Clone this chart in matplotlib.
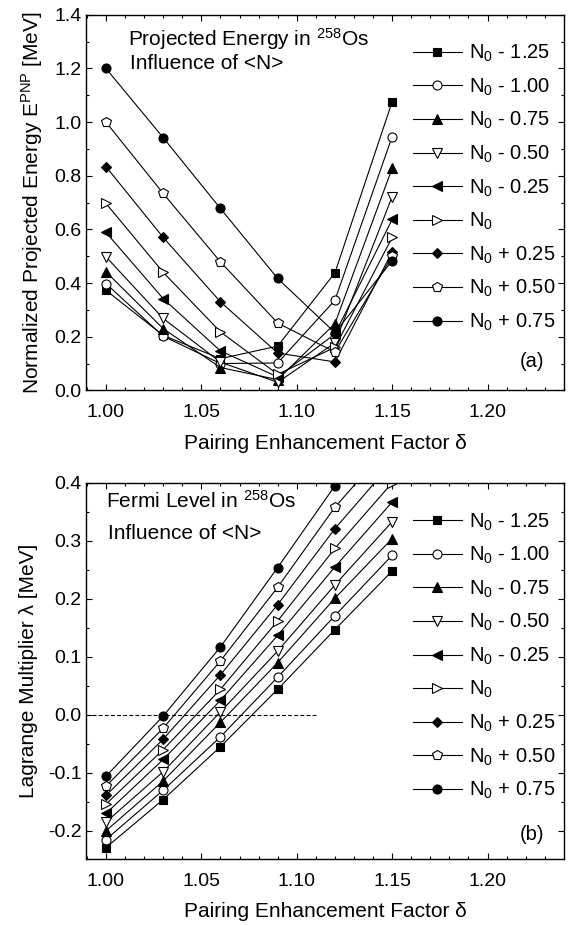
import matplotlib
matplotlib.use("Agg")
import matplotlib.pyplot as plt
from matplotlib.ticker import MultipleLocator, FormatStrFormatter

plt.rcParams['font.family'] = ['Liberation Sans', 'DejaVu Sans']
plt.rcParams['mathtext.fontset'] = 'custom'
plt.rcParams['mathtext.rm'] = 'Liberation Sans'
plt.rcParams['mathtext.it'] = 'Liberation Sans:italic'
plt.rcParams['axes.unicode_minus'] = False

# pairing enhancement factor
delta = [1.00, 1.03, 1.06, 1.09, 1.12, 1.15]

labels = ['N$_0$ - 1.25', 'N$_0$ - 1.00', 'N$_0$ - 0.75', 'N$_0$ - 0.50',
          'N$_0$ - 0.25', 'N$_0$', 'N$_0$ + 0.25', 'N$_0$ + 0.50', 'N$_0$ + 0.75']

# (a) normalized projected energy [MeV]
e_m125 = [0.373, 0.205, 0.118, 0.165, 0.438, 1.076]
e_m100 = [0.398, 0.202, 0.100, 0.102, 0.336, 0.946]
e_m075 = [0.442, 0.230, 0.085, 0.040, 0.249, 0.828]
e_m050 = [0.498, 0.268, 0.105, 0.030, 0.177, 0.722]
e_m025 = [0.589, 0.342, 0.147, 0.050, 0.210, 0.637]
e_0 = [0.697, 0.440, 0.218, 0.060, 0.160, 0.570]
e_p025 = [0.834, 0.570, 0.330, 0.139, 0.106, 0.516]
e_p050 = [1.000, 0.734, 0.479, 0.251, 0.143, 0.500]
e_p075 = [1.200, 0.942, 0.678, 0.417, 0.215, 0.483]

# (b) Lagrange multiplier (Fermi level) [MeV]
l_m125 = [-0.229, -0.146, -0.055, 0.044, 0.147, 0.248]
l_m100 = [-0.215, -0.130, -0.038, 0.065, 0.171, 0.275]
l_m075 = [-0.200, -0.114, -0.013, 0.090, 0.201, 0.304]
l_m050 = [-0.185, -0.098, 0.005, 0.110, 0.224, 0.333]
l_m025 = [-0.170, -0.077, 0.025, 0.137, 0.255, 0.367]
l_0 = [-0.154, -0.060, 0.044, 0.162, 0.287, 0.400]
l_p025 = [-0.139, -0.042, 0.069, 0.190, 0.321, 0.435]
l_p050 = [-0.123, -0.023, 0.093, 0.220, 0.358, 0.470]
l_p075 = [-0.106, -0.002, 0.117, 0.254, 0.395, 0.510]

energy = [e_m125, e_m100, e_m075, e_m050, e_m025, e_0, e_p025, e_p050, e_p075]
fermi = [l_m125, l_m100, l_m075, l_m050, l_m025, l_0, l_p025, l_p050, l_p075]

markers = ['s', 'o', '^', 'v', '<', '>', 'D', 'p', 'o']
filled = [True, False, True, False, True, False, True, False, True]
msizes = [5.5, 6.5, 7, 7, 7, 7, 5.5, 7, 6.5]

XMIN, XMAX = 0.9895, 1.24
FS = 14.5

fig = plt.figure(figsize=(5.69, 9.25), dpi=100)
ax1 = fig.add_axes([0.151, 0.578, 0.840, 0.406])
ax2 = fig.add_axes([0.151, 0.0714, 0.840, 0.4066])


def draw(ax, data):
    for y, lab, m, f, ms in zip(data, labels, markers, filled, msizes):
        ax.plot(delta, y, color='black', lw=0.8, marker=m, ms=ms,
                mfc='black' if f else 'white', mec='black', mew=0.8,
                label=lab)
    ax.set_xlim(XMIN, XMAX)
    ax.xaxis.set_major_locator(MultipleLocator(0.05))
    ax.xaxis.set_minor_locator(MultipleLocator(0.01))
    ax.xaxis.set_major_formatter(FormatStrFormatter('%.2f'))
    ax.tick_params(which='both', direction='in', top=True, right=True,
                   labelsize=14, width=0.8)
    ax.tick_params(which='major', length=4)
    ax.tick_params(which='minor', length=2.5)
    ax.tick_params(axis='x', which='major', pad=10)
    ax.tick_params(axis='y', which='major', pad=3)
    for s in ax.spines.values():
        s.set_linewidth(1.0)
    ax.set_xlabel('Pairing Enhancement Factor δ', fontsize=15, labelpad=9)
    # legend box centred on the rows, handles starting at x = 0.684
    ax.legend(loc='center left', bbox_to_anchor=(0.684, 0.539),
              frameon=False, fontsize=FS, handlelength=2.43,
              handletextpad=0.35, labelspacing=0.61, borderpad=0.0,
              borderaxespad=0.0)


draw(ax1, energy)
ax1.set_ylim(0.0, 1.4)
ax1.yaxis.set_major_locator(MultipleLocator(0.2))
ax1.yaxis.set_minor_locator(MultipleLocator(0.1))
ax1.yaxis.set_major_formatter(FormatStrFormatter('%.1f'))
ax1.set_ylabel('Normalized Projected Energy E$^\\mathregular{PNP}$ [MeV]',
               fontsize=15, labelpad=7)
ax1.text(0.088, 0.917, 'Projected Energy in $^{258}$Os',
         transform=ax1.transAxes, fontsize=15, va='baseline', ha='left')
ax1.text(0.092, 0.856, 'Influence of <N>',
         transform=ax1.transAxes, fontsize=15, va='baseline', ha='left')
ax1.text(0.933, 0.061, '(a)', transform=ax1.transAxes, fontsize=FS,
         ha='center', va='baseline')

draw(ax2, fermi)
ax2.axhline(0.0, xmin=0.0, xmax=(1.111 - XMIN) / (XMAX - XMIN),
            color='black', lw=0.8, ls=(0, (3.5, 2)))
ax2.set_ylim(-0.2485, 0.4)
ax2.yaxis.set_major_locator(MultipleLocator(0.1))
ax2.yaxis.set_minor_locator(MultipleLocator(0.05))
ax2.yaxis.set_major_formatter(FormatStrFormatter('%.1f'))
ax2.set_ylabel('Lagrange Multiplier λ [MeV]', fontsize=15, labelpad=7)
ax2.text(0.042, 0.934, 'Fermi Level in $^{258}$Os',
         transform=ax2.transAxes, fontsize=15, va='baseline', ha='left')
ax2.text(0.046, 0.851, 'Influence of <N>',
         transform=ax2.transAxes, fontsize=15, va='baseline', ha='left')
ax2.text(0.933, 0.05, '(b)', transform=ax2.transAxes, fontsize=FS,
         ha='center', va='baseline')

fig.savefig('out.png', dpi=100)
